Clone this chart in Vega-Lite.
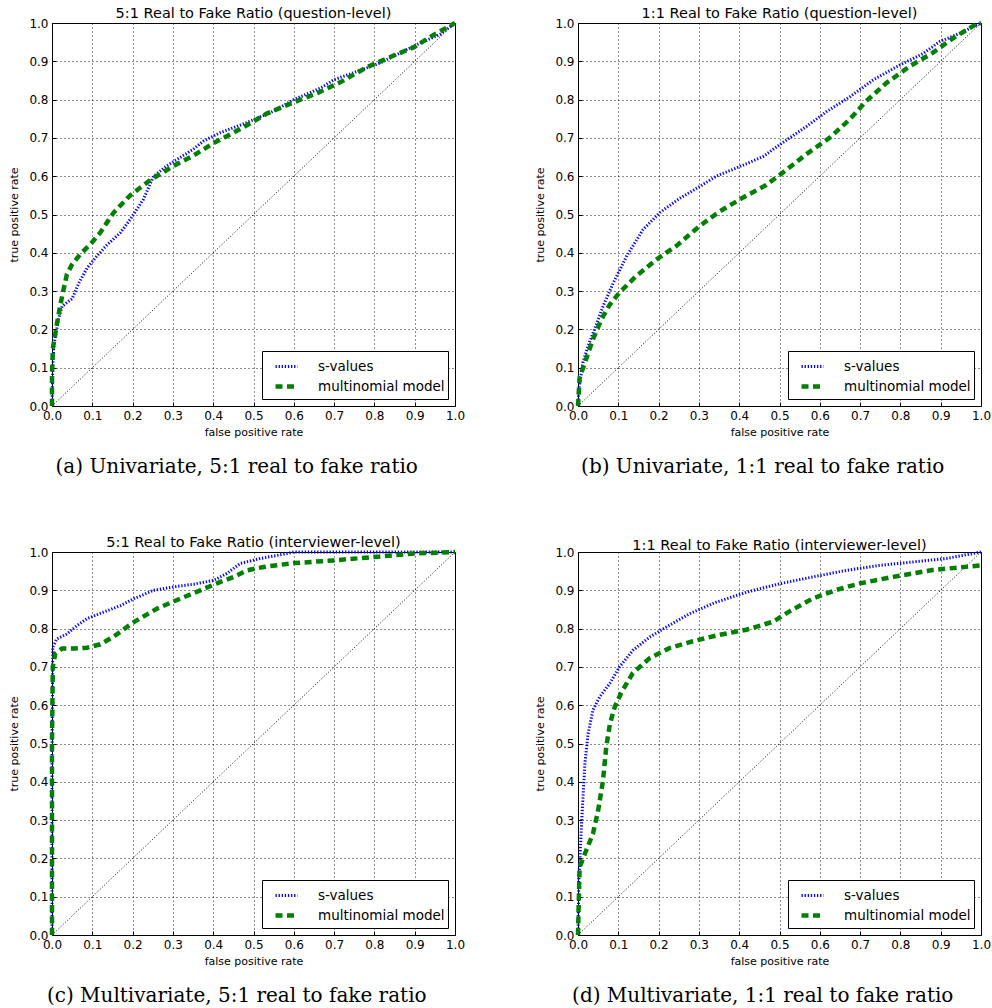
{
  "$schema": "https://vega.github.io/schema/vega-lite/v6.json",
  "padding": {"left": 8, "top": 5, "right": 0, "bottom": 0},
  "background": "white",
  "config": {
    "font": "DejaVu Sans",
    "view": {"stroke": "black", "strokeWidth": 1},
    "title": {"font": "DejaVu Sans", "fontSize": 14.5, "fontWeight": "normal", "color": "black", "offset": -7},
    "axis": {
      "grid": true, "gridColor": "black", "gridDash": [1, 3], "gridWidth": 1, "gridOpacity": 0.9,
      "domain": false, "ticks": true, "tickColor": "black", "tickSize": -4,
      "labelFont": "DejaVu Sans", "labelFontSize": 12, "labelColor": "black", "labelPadding": 8,
      "labelOverlap": false, "labelFlush": false,
      "titleFont": "DejaVu Sans", "titleFontSize": 11, "titleFontWeight": "normal", "titleColor": "black"
    },
    "axisX": {"titlePadding": 5},
    "axisY": {"titlePadding": 9},
    "legend": {
      "orient": "bottom-right", "offset": 7, "title": null,
      "fillColor": "white", "strokeColor": "black", "padding": 3,
      "labelFont": "DejaVu Sans", "labelFontSize": 13.5, "labelColor": "black",
      "symbolType": "stroke", "symbolSize": 484, "symbolOffset": 8, "labelOffset": 18, "rowPadding": 0
    }
  },
  "datasets": {
    "diag": [{"fpr": 0, "tpr": 0}, {"fpr": 1, "tpr": 1}],
    "a": [
      {"model": "s-values", "fpr": 0, "tpr": 0},
      {"model": "s-values", "fpr": 0.002, "tpr": 0.1},
      {"model": "s-values", "fpr": 0.004, "tpr": 0.15},
      {"model": "s-values", "fpr": 0.008, "tpr": 0.18},
      {"model": "s-values", "fpr": 0.017, "tpr": 0.23},
      {"model": "s-values", "fpr": 0.025, "tpr": 0.26},
      {"model": "s-values", "fpr": 0.037, "tpr": 0.27},
      {"model": "s-values", "fpr": 0.05, "tpr": 0.28},
      {"model": "s-values", "fpr": 0.066, "tpr": 0.32},
      {"model": "s-values", "fpr": 0.087, "tpr": 0.36},
      {"model": "s-values", "fpr": 0.11, "tpr": 0.39},
      {"model": "s-values", "fpr": 0.136, "tpr": 0.42},
      {"model": "s-values", "fpr": 0.17, "tpr": 0.453},
      {"model": "s-values", "fpr": 0.194, "tpr": 0.487},
      {"model": "s-values", "fpr": 0.227, "tpr": 0.54},
      {"model": "s-values", "fpr": 0.252, "tpr": 0.6},
      {"model": "s-values", "fpr": 0.285, "tpr": 0.627},
      {"model": "s-values", "fpr": 0.318, "tpr": 0.649},
      {"model": "s-values", "fpr": 0.35, "tpr": 0.67},
      {"model": "s-values", "fpr": 0.376, "tpr": 0.692},
      {"model": "s-values", "fpr": 0.418, "tpr": 0.714},
      {"model": "s-values", "fpr": 0.484, "tpr": 0.74},
      {"model": "s-values", "fpr": 0.55, "tpr": 0.77},
      {"model": "s-values", "fpr": 0.6, "tpr": 0.8},
      {"model": "s-values", "fpr": 0.666, "tpr": 0.83},
      {"model": "s-values", "fpr": 0.7, "tpr": 0.852},
      {"model": "s-values", "fpr": 0.748, "tpr": 0.87},
      {"model": "s-values", "fpr": 0.815, "tpr": 0.896},
      {"model": "s-values", "fpr": 0.864, "tpr": 0.922},
      {"model": "s-values", "fpr": 0.914, "tpr": 0.948},
      {"model": "s-values", "fpr": 0.963, "tpr": 0.97},
      {"model": "s-values", "fpr": 1, "tpr": 1},
      {"model": "multinomial model", "fpr": 0, "tpr": 0},
      {"model": "multinomial model", "fpr": 0, "tpr": 0.08},
      {"model": "multinomial model", "fpr": 0.002, "tpr": 0.15},
      {"model": "multinomial model", "fpr": 0.006, "tpr": 0.174},
      {"model": "multinomial model", "fpr": 0.012, "tpr": 0.213},
      {"model": "multinomial model", "fpr": 0.02, "tpr": 0.26},
      {"model": "multinomial model", "fpr": 0.027, "tpr": 0.296},
      {"model": "multinomial model", "fpr": 0.037, "tpr": 0.344},
      {"model": "multinomial model", "fpr": 0.05, "tpr": 0.37},
      {"model": "multinomial model", "fpr": 0.07, "tpr": 0.396},
      {"model": "multinomial model", "fpr": 0.095, "tpr": 0.422},
      {"model": "multinomial model", "fpr": 0.12, "tpr": 0.453},
      {"model": "multinomial model", "fpr": 0.153, "tpr": 0.505},
      {"model": "multinomial model", "fpr": 0.194, "tpr": 0.55},
      {"model": "multinomial model", "fpr": 0.244, "tpr": 0.59},
      {"model": "multinomial model", "fpr": 0.302, "tpr": 0.627},
      {"model": "multinomial model", "fpr": 0.35, "tpr": 0.653},
      {"model": "multinomial model", "fpr": 0.4, "tpr": 0.686},
      {"model": "multinomial model", "fpr": 0.467, "tpr": 0.723},
      {"model": "multinomial model", "fpr": 0.534, "tpr": 0.764},
      {"model": "multinomial model", "fpr": 0.6, "tpr": 0.793},
      {"model": "multinomial model", "fpr": 0.658, "tpr": 0.817},
      {"model": "multinomial model", "fpr": 0.715, "tpr": 0.845},
      {"model": "multinomial model", "fpr": 0.78, "tpr": 0.884},
      {"model": "multinomial model", "fpr": 0.848, "tpr": 0.915},
      {"model": "multinomial model", "fpr": 0.897, "tpr": 0.936},
      {"model": "multinomial model", "fpr": 0.947, "tpr": 0.969},
      {"model": "multinomial model", "fpr": 1, "tpr": 1}
    ],
    "b": [
      {"model": "s-values", "fpr": 0, "tpr": 0},
      {"model": "s-values", "fpr": 0.002, "tpr": 0.043},
      {"model": "s-values", "fpr": 0.012, "tpr": 0.113},
      {"model": "s-values", "fpr": 0.025, "tpr": 0.157},
      {"model": "s-values", "fpr": 0.041, "tpr": 0.2},
      {"model": "s-values", "fpr": 0.062, "tpr": 0.26},
      {"model": "s-values", "fpr": 0.087, "tpr": 0.32},
      {"model": "s-values", "fpr": 0.12, "tpr": 0.39},
      {"model": "s-values", "fpr": 0.161, "tpr": 0.46},
      {"model": "s-values", "fpr": 0.203, "tpr": 0.505},
      {"model": "s-values", "fpr": 0.252, "tpr": 0.542},
      {"model": "s-values", "fpr": 0.302, "tpr": 0.573},
      {"model": "s-values", "fpr": 0.343, "tpr": 0.6},
      {"model": "s-values", "fpr": 0.401, "tpr": 0.625},
      {"model": "s-values", "fpr": 0.459, "tpr": 0.651},
      {"model": "s-values", "fpr": 0.5, "tpr": 0.682},
      {"model": "s-values", "fpr": 0.567, "tpr": 0.73},
      {"model": "s-values", "fpr": 0.616, "tpr": 0.768},
      {"model": "s-values", "fpr": 0.674, "tpr": 0.807},
      {"model": "s-values", "fpr": 0.732, "tpr": 0.851},
      {"model": "s-values", "fpr": 0.798, "tpr": 0.89},
      {"model": "s-values", "fpr": 0.856, "tpr": 0.92},
      {"model": "s-values", "fpr": 0.897, "tpr": 0.951},
      {"model": "s-values", "fpr": 0.947, "tpr": 0.973},
      {"model": "s-values", "fpr": 1, "tpr": 1},
      {"model": "multinomial model", "fpr": 0, "tpr": 0},
      {"model": "multinomial model", "fpr": 0.004, "tpr": 0.074},
      {"model": "multinomial model", "fpr": 0.017, "tpr": 0.113},
      {"model": "multinomial model", "fpr": 0.037, "tpr": 0.174},
      {"model": "multinomial model", "fpr": 0.058, "tpr": 0.226},
      {"model": "multinomial model", "fpr": 0.079, "tpr": 0.265},
      {"model": "multinomial model", "fpr": 0.103, "tpr": 0.296},
      {"model": "multinomial model", "fpr": 0.145, "tpr": 0.34},
      {"model": "multinomial model", "fpr": 0.198, "tpr": 0.385},
      {"model": "multinomial model", "fpr": 0.244, "tpr": 0.418},
      {"model": "multinomial model", "fpr": 0.302, "tpr": 0.47},
      {"model": "multinomial model", "fpr": 0.35, "tpr": 0.507},
      {"model": "multinomial model", "fpr": 0.409, "tpr": 0.544},
      {"model": "multinomial model", "fpr": 0.467, "tpr": 0.577},
      {"model": "multinomial model", "fpr": 0.509, "tpr": 0.61},
      {"model": "multinomial model", "fpr": 0.566, "tpr": 0.657},
      {"model": "multinomial model", "fpr": 0.624, "tpr": 0.7},
      {"model": "multinomial model", "fpr": 0.674, "tpr": 0.748},
      {"model": "multinomial model", "fpr": 0.715, "tpr": 0.796},
      {"model": "multinomial model", "fpr": 0.765, "tpr": 0.843},
      {"model": "multinomial model", "fpr": 0.823, "tpr": 0.887},
      {"model": "multinomial model", "fpr": 0.88, "tpr": 0.922},
      {"model": "multinomial model", "fpr": 0.93, "tpr": 0.96},
      {"model": "multinomial model", "fpr": 0.988, "tpr": 0.997},
      {"model": "multinomial model", "fpr": 1, "tpr": 1}
    ],
    "c": [
      {"model": "s-values", "fpr": 0, "tpr": 0},
      {"model": "s-values", "fpr": 0, "tpr": 0.5},
      {"model": "s-values", "fpr": 0.002, "tpr": 0.752},
      {"model": "s-values", "fpr": 0.012, "tpr": 0.773},
      {"model": "s-values", "fpr": 0.037, "tpr": 0.786},
      {"model": "s-values", "fpr": 0.062, "tpr": 0.808},
      {"model": "s-values", "fpr": 0.087, "tpr": 0.826},
      {"model": "s-values", "fpr": 0.128, "tpr": 0.843},
      {"model": "s-values", "fpr": 0.17, "tpr": 0.86},
      {"model": "s-values", "fpr": 0.203, "tpr": 0.878},
      {"model": "s-values", "fpr": 0.252, "tpr": 0.9},
      {"model": "s-values", "fpr": 0.302, "tpr": 0.909},
      {"model": "s-values", "fpr": 0.352, "tpr": 0.916},
      {"model": "s-values", "fpr": 0.401, "tpr": 0.926},
      {"model": "s-values", "fpr": 0.434, "tpr": 0.944},
      {"model": "s-values", "fpr": 0.467, "tpr": 0.97},
      {"model": "s-values", "fpr": 0.517, "tpr": 0.983},
      {"model": "s-values", "fpr": 0.583, "tpr": 0.996},
      {"model": "s-values", "fpr": 0.6, "tpr": 1},
      {"model": "s-values", "fpr": 1, "tpr": 1},
      {"model": "multinomial model", "fpr": 0, "tpr": 0},
      {"model": "multinomial model", "fpr": 0, "tpr": 0.5},
      {"model": "multinomial model", "fpr": 0.002, "tpr": 0.7},
      {"model": "multinomial model", "fpr": 0.008, "tpr": 0.735},
      {"model": "multinomial model", "fpr": 0.025, "tpr": 0.748},
      {"model": "multinomial model", "fpr": 0.054, "tpr": 0.748},
      {"model": "multinomial model", "fpr": 0.087, "tpr": 0.75},
      {"model": "multinomial model", "fpr": 0.12, "tpr": 0.759},
      {"model": "multinomial model", "fpr": 0.153, "tpr": 0.779},
      {"model": "multinomial model", "fpr": 0.203, "tpr": 0.817},
      {"model": "multinomial model", "fpr": 0.26, "tpr": 0.852},
      {"model": "multinomial model", "fpr": 0.318, "tpr": 0.878},
      {"model": "multinomial model", "fpr": 0.368, "tpr": 0.9},
      {"model": "multinomial model", "fpr": 0.418, "tpr": 0.922},
      {"model": "multinomial model", "fpr": 0.451, "tpr": 0.935},
      {"model": "multinomial model", "fpr": 0.484, "tpr": 0.952},
      {"model": "multinomial model", "fpr": 0.525, "tpr": 0.961},
      {"model": "multinomial model", "fpr": 0.6, "tpr": 0.971},
      {"model": "multinomial model", "fpr": 0.699, "tpr": 0.978},
      {"model": "multinomial model", "fpr": 0.798, "tpr": 0.987},
      {"model": "multinomial model", "fpr": 0.897, "tpr": 0.996},
      {"model": "multinomial model", "fpr": 1, "tpr": 1}
    ],
    "d": [
      {"model": "s-values", "fpr": 0, "tpr": 0},
      {"model": "s-values", "fpr": 0.002, "tpr": 0.142},
      {"model": "s-values", "fpr": 0.006, "tpr": 0.229},
      {"model": "s-values", "fpr": 0.011, "tpr": 0.334},
      {"model": "s-values", "fpr": 0.017, "tpr": 0.447},
      {"model": "s-values", "fpr": 0.025, "tpr": 0.525},
      {"model": "s-values", "fpr": 0.037, "tpr": 0.587},
      {"model": "s-values", "fpr": 0.054, "tpr": 0.622},
      {"model": "s-values", "fpr": 0.079, "tpr": 0.657},
      {"model": "s-values", "fpr": 0.103, "tpr": 0.7},
      {"model": "s-values", "fpr": 0.136, "tpr": 0.743},
      {"model": "s-values", "fpr": 0.178, "tpr": 0.778},
      {"model": "s-values", "fpr": 0.219, "tpr": 0.804},
      {"model": "s-values", "fpr": 0.277, "tpr": 0.839},
      {"model": "s-values", "fpr": 0.343, "tpr": 0.869},
      {"model": "s-values", "fpr": 0.418, "tpr": 0.895},
      {"model": "s-values", "fpr": 0.5, "tpr": 0.917},
      {"model": "s-values", "fpr": 0.583, "tpr": 0.935},
      {"model": "s-values", "fpr": 0.666, "tpr": 0.952},
      {"model": "s-values", "fpr": 0.748, "tpr": 0.965},
      {"model": "s-values", "fpr": 0.831, "tpr": 0.974},
      {"model": "s-values", "fpr": 0.914, "tpr": 0.983},
      {"model": "s-values", "fpr": 1, "tpr": 1},
      {"model": "multinomial model", "fpr": 0, "tpr": 0},
      {"model": "multinomial model", "fpr": 0.004, "tpr": 0.177},
      {"model": "multinomial model", "fpr": 0.017, "tpr": 0.212},
      {"model": "multinomial model", "fpr": 0.037, "tpr": 0.264},
      {"model": "multinomial model", "fpr": 0.05, "tpr": 0.325},
      {"model": "multinomial model", "fpr": 0.062, "tpr": 0.403},
      {"model": "multinomial model", "fpr": 0.07, "tpr": 0.49},
      {"model": "multinomial model", "fpr": 0.079, "tpr": 0.55},
      {"model": "multinomial model", "fpr": 0.091, "tpr": 0.595},
      {"model": "multinomial model", "fpr": 0.107, "tpr": 0.632},
      {"model": "multinomial model", "fpr": 0.136, "tpr": 0.684},
      {"model": "multinomial model", "fpr": 0.178, "tpr": 0.723},
      {"model": "multinomial model", "fpr": 0.227, "tpr": 0.749},
      {"model": "multinomial model", "fpr": 0.285, "tpr": 0.767},
      {"model": "multinomial model", "fpr": 0.352, "tpr": 0.784},
      {"model": "multinomial model", "fpr": 0.418, "tpr": 0.797},
      {"model": "multinomial model", "fpr": 0.484, "tpr": 0.818},
      {"model": "multinomial model", "fpr": 0.525, "tpr": 0.845},
      {"model": "multinomial model", "fpr": 0.583, "tpr": 0.879},
      {"model": "multinomial model", "fpr": 0.641, "tpr": 0.901},
      {"model": "multinomial model", "fpr": 0.699, "tpr": 0.918},
      {"model": "multinomial model", "fpr": 0.782, "tpr": 0.935},
      {"model": "multinomial model", "fpr": 0.88, "tpr": 0.953},
      {"model": "multinomial model", "fpr": 1, "tpr": 0.965}
    ]
  },
  "vconcat": [
    {
      "hconcat": [
        {
          "title": {"text": "(a) Univariate, 5:1 real to fake ratio", "orient": "bottom", "font": "DejaVu Serif", "fontSize": 20, "offset": 19, "anchor": "middle"},
          "resolve": {"scale": {"color": "independent", "strokeDash": "independent", "strokeWidth": "independent"}, "legend": {"color": "independent", "strokeDash": "independent", "strokeWidth": "independent"}},
          "vconcat": [
            {
              "title": "5:1 Real to Fake Ratio (question-level)",
              "width": 403, "height": 383,
              "encoding": {
                "x": {"field": "fpr", "type": "quantitative", "title": "false positive rate", "scale": {"domain": [0, 1], "nice": false}, "axis": {"values": [0, 0.1, 0.2, 0.3, 0.4, 0.5, 0.6, 0.7, 0.8, 0.9, 1], "format": ".1f", "labelOverlap": false}},
                "y": {"field": "tpr", "type": "quantitative", "title": "true positive rate", "scale": {"domain": [0, 1], "nice": false}, "axis": {"values": [0, 0.1, 0.2, 0.3, 0.4, 0.5, 0.6, 0.7, 0.8, 0.9, 1], "format": ".1f", "labelOverlap": false}}
              },
              "layer": [
                {"data": {"name": "diag"}, "mark": {"type": "line", "color": "black", "strokeWidth": 1, "strokeDash": [1, 2]}, "encoding": {}},
                {"data": {"name": "a"}, "mark": {"type": "line"},
                 "encoding": {
                   "color": {"field": "model", "type": "nominal", "sort": null, "scale": {"domain": ["s-values", "multinomial model"], "range": ["#0000ff", "#008000"]}, "legend": {"orient": "bottom-right"}},
                   "strokeDash": {"field": "model", "type": "nominal", "sort": null, "scale": {"domain": ["s-values", "multinomial model"], "range": [[1.3, 1.8], [7, 4.5]]}, "legend": {"orient": "bottom-right"}},
                   "strokeWidth": {"field": "model", "type": "nominal", "sort": null, "scale": {"domain": ["s-values", "multinomial model"], "range": [3, 4.5]}, "legend": {"orient": "bottom-right"}}
                 }}
              ]
            }
          ]
        },
        {
          "title": {"text": "(b) Univariate, 1:1 real to fake ratio", "orient": "bottom", "font": "DejaVu Serif", "fontSize": 20, "offset": 19, "anchor": "middle"},
          "resolve": {"scale": {"color": "independent", "strokeDash": "independent", "strokeWidth": "independent"}, "legend": {"color": "independent", "strokeDash": "independent", "strokeWidth": "independent"}},
          "vconcat": [
            {
              "title": "1:1 Real to Fake Ratio (question-level)",
              "width": 403, "height": 383,
              "encoding": {
                "x": {"field": "fpr", "type": "quantitative", "title": "false positive rate", "scale": {"domain": [0, 1], "nice": false}, "axis": {"values": [0, 0.1, 0.2, 0.3, 0.4, 0.5, 0.6, 0.7, 0.8, 0.9, 1], "format": ".1f", "labelOverlap": false}},
                "y": {"field": "tpr", "type": "quantitative", "title": "true positive rate", "scale": {"domain": [0, 1], "nice": false}, "axis": {"values": [0, 0.1, 0.2, 0.3, 0.4, 0.5, 0.6, 0.7, 0.8, 0.9, 1], "format": ".1f", "labelOverlap": false}}
              },
              "layer": [
                {"data": {"name": "diag"}, "mark": {"type": "line", "color": "black", "strokeWidth": 1, "strokeDash": [1, 2]}, "encoding": {}},
                {"data": {"name": "b"}, "mark": {"type": "line"},
                 "encoding": {
                   "color": {"field": "model", "type": "nominal", "sort": null, "scale": {"domain": ["s-values", "multinomial model"], "range": ["#0000ff", "#008000"]}, "legend": {"orient": "bottom-right"}},
                   "strokeDash": {"field": "model", "type": "nominal", "sort": null, "scale": {"domain": ["s-values", "multinomial model"], "range": [[1.3, 1.8], [7, 4.5]]}, "legend": {"orient": "bottom-right"}},
                   "strokeWidth": {"field": "model", "type": "nominal", "sort": null, "scale": {"domain": ["s-values", "multinomial model"], "range": [3, 4.5]}, "legend": {"orient": "bottom-right"}}
                 }}
              ]
            }
          ]
        }
      ],
      "spacing": 68,
      "resolve": {"scale": {"color": "independent", "strokeDash": "independent", "strokeWidth": "independent"}, "legend": {"color": "independent", "strokeDash": "independent", "strokeWidth": "independent"}}
    },
    {
      "hconcat": [
        {
          "title": {"text": "(c) Multivariate, 5:1 real to fake ratio", "orient": "bottom", "font": "DejaVu Serif", "fontSize": 20, "offset": 19, "anchor": "middle"},
          "resolve": {"scale": {"color": "independent", "strokeDash": "independent", "strokeWidth": "independent"}, "legend": {"color": "independent", "strokeDash": "independent", "strokeWidth": "independent"}},
          "vconcat": [
            {
              "title": "5:1 Real to Fake Ratio (interviewer-level)",
              "width": 403, "height": 383,
              "encoding": {
                "x": {"field": "fpr", "type": "quantitative", "title": "false positive rate", "scale": {"domain": [0, 1], "nice": false}, "axis": {"values": [0, 0.1, 0.2, 0.3, 0.4, 0.5, 0.6, 0.7, 0.8, 0.9, 1], "format": ".1f", "labelOverlap": false}},
                "y": {"field": "tpr", "type": "quantitative", "title": "true positive rate", "scale": {"domain": [0, 1], "nice": false}, "axis": {"values": [0, 0.1, 0.2, 0.3, 0.4, 0.5, 0.6, 0.7, 0.8, 0.9, 1], "format": ".1f", "labelOverlap": false}}
              },
              "layer": [
                {"data": {"name": "diag"}, "mark": {"type": "line", "color": "black", "strokeWidth": 1, "strokeDash": [1, 2]}, "encoding": {}},
                {"data": {"name": "c"}, "mark": {"type": "line"},
                 "encoding": {
                   "color": {"field": "model", "type": "nominal", "sort": null, "scale": {"domain": ["s-values", "multinomial model"], "range": ["#0000ff", "#008000"]}, "legend": {"orient": "bottom-right"}},
                   "strokeDash": {"field": "model", "type": "nominal", "sort": null, "scale": {"domain": ["s-values", "multinomial model"], "range": [[1.3, 1.8], [7, 4.5]]}, "legend": {"orient": "bottom-right"}},
                   "strokeWidth": {"field": "model", "type": "nominal", "sort": null, "scale": {"domain": ["s-values", "multinomial model"], "range": [3, 4.5]}, "legend": {"orient": "bottom-right"}}
                 }}
              ]
            }
          ]
        },
        {
          "title": {"text": "(d) Multivariate, 1:1 real to fake ratio", "orient": "bottom", "font": "DejaVu Serif", "fontSize": 20, "offset": 19, "anchor": "middle"},
          "resolve": {"scale": {"color": "independent", "strokeDash": "independent", "strokeWidth": "independent"}, "legend": {"color": "independent", "strokeDash": "independent", "strokeWidth": "independent"}},
          "vconcat": [
            {
              "title": "1:1 Real to Fake Ratio (interviewer-level)",
              "width": 403, "height": 383,
              "encoding": {
                "x": {"field": "fpr", "type": "quantitative", "title": "false positive rate", "scale": {"domain": [0, 1], "nice": false}, "axis": {"values": [0, 0.1, 0.2, 0.3, 0.4, 0.5, 0.6, 0.7, 0.8, 0.9, 1], "format": ".1f", "labelOverlap": false}},
                "y": {"field": "tpr", "type": "quantitative", "title": "true positive rate", "scale": {"domain": [0, 1], "nice": false}, "axis": {"values": [0, 0.1, 0.2, 0.3, 0.4, 0.5, 0.6, 0.7, 0.8, 0.9, 1], "format": ".1f", "labelOverlap": false}}
              },
              "layer": [
                {"data": {"name": "diag"}, "mark": {"type": "line", "color": "black", "strokeWidth": 1, "strokeDash": [1, 2]}, "encoding": {}},
                {"data": {"name": "d"}, "mark": {"type": "line"},
                 "encoding": {
                   "color": {"field": "model", "type": "nominal", "sort": null, "scale": {"domain": ["s-values", "multinomial model"], "range": ["#0000ff", "#008000"]}, "legend": {"orient": "bottom-right"}},
                   "strokeDash": {"field": "model", "type": "nominal", "sort": null, "scale": {"domain": ["s-values", "multinomial model"], "range": [[1.3, 1.8], [7, 4.5]]}, "legend": {"orient": "bottom-right"}},
                   "strokeWidth": {"field": "model", "type": "nominal", "sort": null, "scale": {"domain": ["s-values", "multinomial model"], "range": [3, 4.5]}, "legend": {"orient": "bottom-right"}}
                 }}
              ]
            }
          ]
        }
      ],
      "spacing": 68,
      "resolve": {"scale": {"color": "independent", "strokeDash": "independent", "strokeWidth": "independent"}, "legend": {"color": "independent", "strokeDash": "independent", "strokeWidth": "independent"}}
    }
  ],
  "spacing": 57,
  "resolve": {"scale": {"color": "independent", "strokeDash": "independent", "strokeWidth": "independent"}, "legend": {"color": "independent", "strokeDash": "independent", "strokeWidth": "independent"}}
}
